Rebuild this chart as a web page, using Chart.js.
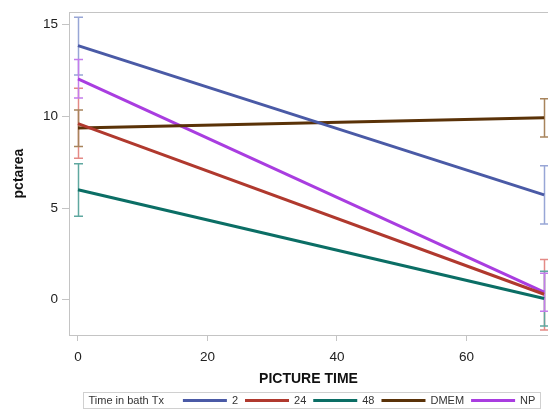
<!DOCTYPE html>
<html>
<head>
<meta charset="utf-8">
<script src="https://cdn.jsdelivr.net/npm/chart.js@4"></script>
<style>
html, body { margin: 0; padding: 0; background: #fff; }
</style>
</head>
<body>
<canvas id="chart" width="548" height="417"></canvas>
<script>
// picture times and treatment groups
const times = [0, 72];
const groups = ["2", "24", "48", "DMEM", "NP"];

// mean pctarea per group
const mean2 = [13.85, 5.72];
const mean24 = [9.6, 0.3];
const mean48 = [6.0, 0.07];
const meanDMEM = [9.36, 9.92];
const meanNP = [12.04, 0.42];

// error bar limits
const upper2 = [15.4, 7.3];
const lower2 = [12.25, 4.13];
const upper24 = [11.53, 2.2];
const lower24 = [7.72, -1.65];
const upper48 = [7.42, 1.55];
const lower48 = [4.55, -1.43];
const upperDMEM = [10.35, 10.96];
const lowerDMEM = [8.35, 8.87];
const upperNP = [13.1, 1.45];
const lowerNP = [11.0, -0.63];

const xTicks = [0, 20, 40, 60];
const yTicks = [0, 5, 10, 15];

const means = [mean2, mean24, mean48, meanDMEM, meanNP];
const uppers = [upper2, upper24, upper48, upperDMEM, upperNP];
const lowers = [lower2, lower24, lower48, lowerDMEM, lowerNP];

const lineColors = ["#4a5aa6", "#b0392e", "#0b6e65", "#5a3208", "#a93de0"];
const barColors = ["#98a6d6", "#e48a86", "#5fa8a0", "#a8845c", "#c47cec"];

const FONT = "'Liberation Sans', Arial, sans-serif";

// error bars, drawn under the lines
const errorBars = {
    id: "errorBars",
    beforeDatasetsDraw(chart) {
        const ctx = chart.ctx;
        const xs = chart.scales.x;
        const ys = chart.scales.y;
        ctx.save();
        ctx.lineWidth = 1.5;
        chart.data.datasets.forEach((ds, i) => {
            ctx.strokeStyle = barColors[i];
            times.forEach((t, j) => {
                const px = Math.round(xs.getPixelForValue(t)) + 0.5;
                const top = ys.getPixelForValue(uppers[i][j]);
                const bot = ys.getPixelForValue(lowers[i][j]);
                ctx.beginPath();
                ctx.moveTo(px, top);
                ctx.lineTo(px, bot);
                ctx.moveTo(px - 4.5, top);
                ctx.lineTo(px + 4.5, top);
                ctx.moveTo(px - 4.5, bot);
                ctx.lineTo(px + 4.5, bot);
                ctx.stroke();
            });
        });
        ctx.restore();
    },
    afterDraw(chart) {
        const ctx = chart.ctx;
        const area = chart.chartArea;
        ctx.save();
        // top frame line
        ctx.strokeStyle = "#c4c4c4";
        ctx.lineWidth = 1;
        ctx.beginPath();
        ctx.moveTo(area.left, Math.round(area.top) + 0.5);
        ctx.lineTo(area.right, Math.round(area.top) + 0.5);
        ctx.stroke();

        // legend
        ctx.font = "11px " + FONT;
        ctx.textBaseline = "middle";
        const title = "Time in bath Tx";
        const sample = 44;
        const gap = 7;
        let w = 5 + ctx.measureText(title).width + 19;
        chart.data.datasets.forEach((ds) => {
            w += sample + 5 + ctx.measureText(ds.label).width + gap;
        });
        w += 5 - gap;
        const boxX = 83.5;
        const boxY = 392.5;
        const boxH = 16;
        ctx.strokeStyle = "#d0d0d0";
        ctx.strokeRect(boxX, boxY, Math.round(w), boxH);
        const cy = boxY + boxH / 2;
        let x = boxX + 5;
        ctx.fillStyle = "#333";
        ctx.fillText(title, x, cy);
        x += ctx.measureText(title).width + 19;
        chart.data.datasets.forEach((ds, i) => {
            ctx.strokeStyle = lineColors[i];
            ctx.lineWidth = 3;
            ctx.beginPath();
            ctx.moveTo(x, cy);
            ctx.lineTo(x + sample, cy);
            ctx.stroke();
            x += sample + 5;
            ctx.fillStyle = "#333";
            ctx.fillText(ds.label, x, cy);
            x += ctx.measureText(ds.label).width + gap;
        });
        ctx.restore();
    }
};

const datasets = groups.map((g, i) => ({
    label: g,
    data: times.map((t, j) => ({ x: t, y: means[i][j] })),
    borderColor: lineColors[i],
    backgroundColor: lineColors[i],
    borderWidth: 3,
    pointRadius: 0,
    fill: false,
    tension: 0
}));

const ctx = document.getElementById("chart").getContext("2d");
const chart = new Chart(ctx, {
    type: "line",
    data: { datasets: datasets },
    plugins: [errorBars],
    options: {
        responsive: false,
        animation: false,
        layout: { padding: { top: 7, bottom: 28, left: 0, right: 0 } },
        plugins: {
            legend: { display: false },
            tooltip: { enabled: false }
        },
        scales: {
            x: {
                type: "linear",
                min: -1.39,
                max: 72.6,
                afterBuildTicks: (scale) => { scale.ticks = xTicks.map(v => ({ value: v })); },
                afterFit: (scale) => { scale.height = 54; },
                grid: { drawOnChartArea: false, tickLength: 6, color: "#c4c4c4" },
                border: { color: "#c4c4c4" },
                ticks: { font: { size: 13.5, family: FONT }, color: "#222", padding: 8, maxRotation: 0 },
                title: {
                    display: true,
                    text: "PICTURE TIME",
                    font: { size: 14, weight: "bold", family: FONT },
                    color: "#111",
                    padding: { top: 0, bottom: 1 }
                }
            },
            y: {
                type: "linear",
                min: -1.92,
                max: 15.68,
                afterBuildTicks: (scale) => { scale.ticks = yTicks.map(v => ({ value: v })); },
                afterFit: (scale) => { scale.width = 69; },
                grid: { drawOnChartArea: false, tickLength: 7, color: "#c4c4c4" },
                border: { color: "#c4c4c4" },
                ticks: { font: { size: 13.5, family: FONT }, color: "#222", padding: 4 },
                title: {
                    display: true,
                    text: "pctarea",
                    font: { size: 14, weight: "bold", family: FONT },
                    color: "#111",
                    padding: { top: 11, bottom: 0 }
                }
            }
        }
    }
});
</script>
</body>
</html>
